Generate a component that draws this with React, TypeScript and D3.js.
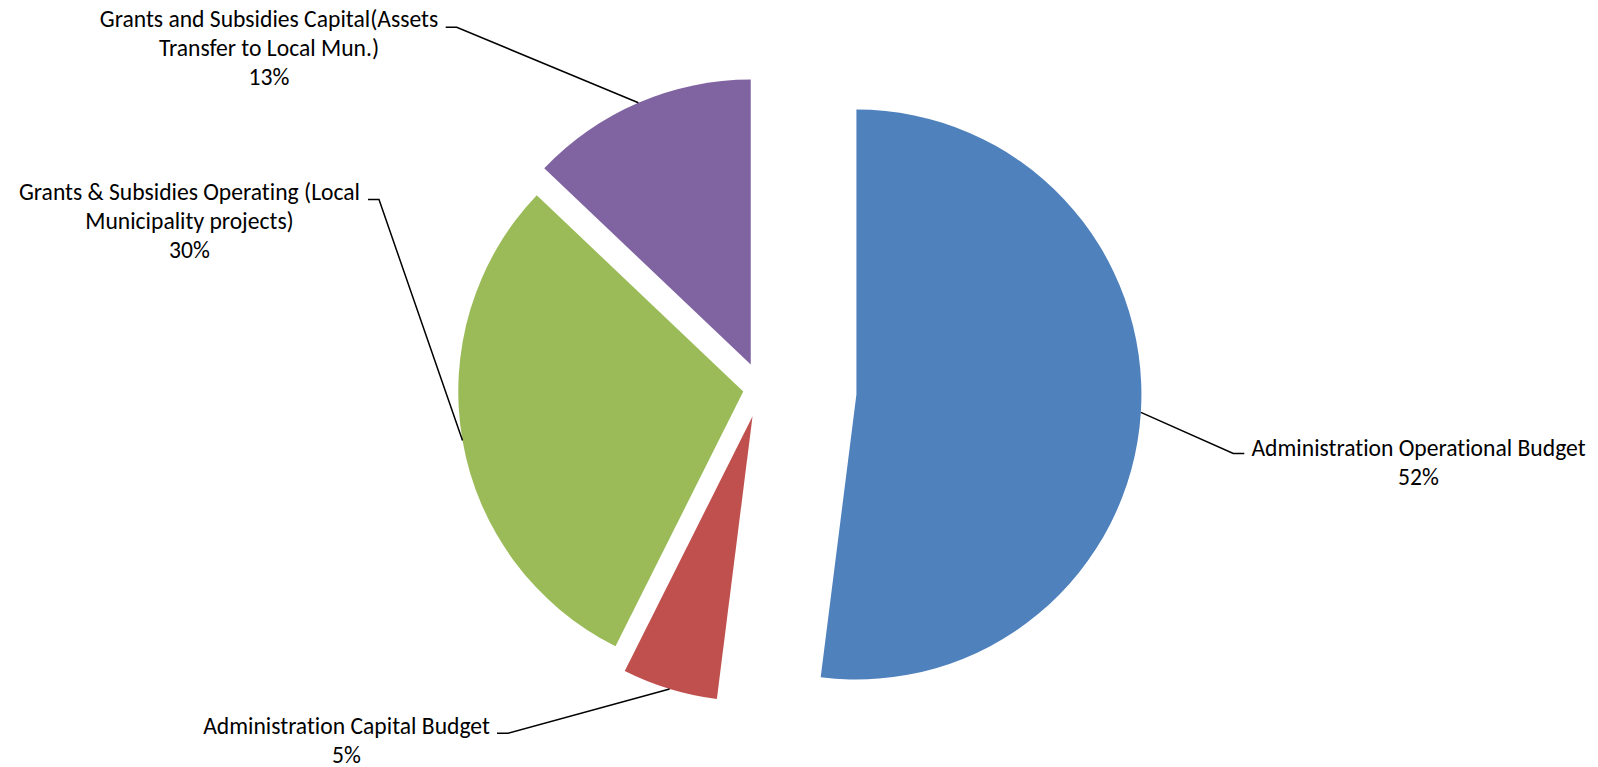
import React from "react";
import * as d3 from "d3";

// ---- data ----
const categories: string[] = [
  "Administration Operational Budget",
  "Administration Capital Budget",
  "Grants & Subsidies Operating (Local Municipality projects)",
  "Grants and Subsidies Capital(Assets Transfer to Local Mun.)",
];
const values: number[] = [52.0, 5.4, 29.7, 12.9];
const labelLines: string[][] = [
  ["Administration Operational Budget"],
  ["Administration Capital Budget"],
  ["Grants & Subsidies Operating (Local", "Municipality projects)"],
  ["Grants and Subsidies Capital(Assets", "Transfer to Local Mun.)"],
];

// ---- styles / layout ----
const colors = ["#4F81BD", "#C0504D", "#9BBB59", "#8064A2"];
const explode = [95.6, 29, 18, 26];
const W = 1598;
const H = 767;
const CX = 761;
const CY = 388.5;
const R = 285;
// label layout: elbow point of leader, tick direction, text centre x, first baseline y
const labelLayout = [
  { ex: 1233.3, ey: 453.5, dir: 1, tx: 1418.5, ty: 456 },
  { ex: 508, ey: 733.3, dir: -1, tx: 346.5, ty: 733.5 },
  { ex: 379, ey: 199.5, dir: -1, tx: 189.5, ty: 200 },
  { ex: 456.7, ey: 27.3, dir: -1, tx: 269, ty: 26.7 },
];
const TICK = 11;
const LINE_H = 29;
const FONT = "Carlito, Calibri, Lato, 'Open Sans', sans-serif";
const FONT_SIZE = 23.6;

export default function App() {
  const pie = d3
    .pie<number>()
    .sort(null)
    .startAngle(0)
    .endAngle(2 * Math.PI)
    .value((d) => d);
  const arcs = pie(values);
  const arcGen = d3.arc<d3.PieArcDatum<number>>().innerRadius(0).outerRadius(R);
  const total = d3.sum(values);

  return (
    <div style={{ position: "absolute", left: 0, top: 0, width: W, height: H, background: "#fff" }}>
      <svg width={W} height={H} style={{ display: "block" }}>
        <rect x={0} y={0} width={W} height={H} fill="#fff" />
        {arcs.map((a, i) => {
          const mid = (a.startAngle + a.endAngle) / 2;
          const ox = CX + Math.sin(mid) * explode[i];
          const oy = CY - Math.cos(mid) * explode[i];
          return (
            <path
              key={categories[i]}
              d={arcGen(a) || ""}
              transform={`translate(${ox},${oy})`}
              fill={colors[i]}
            />
          );
        })}
        {arcs.map((a, i) => {
          const mid = (a.startAngle + a.endAngle) / 2;
          const ox = CX + Math.sin(mid) * explode[i];
          const oy = CY - Math.cos(mid) * explode[i];
          const sx = ox + Math.sin(mid) * R;
          const sy = oy - Math.cos(mid) * R;
          const L = labelLayout[i];
          const pts: [number, number][] = [
            [sx, sy],
            [L.ex, L.ey],
            [L.ex + L.dir * TICK, L.ey],
          ];
          const pct = Math.round((values[i] / total) * 100) + "%";
          const lines = [...labelLines[i], pct];
          return (
            <g key={"lab" + i}>
              <path
                d={d3.line()(pts) || ""}
                fill="none"
                stroke="#000"
                strokeWidth={1.5}
              />
              <text
                x={L.tx}
                y={L.ty}
                textAnchor="middle"
                fontFamily={FONT}
                fontSize={FONT_SIZE}
                fill="#000"
                style={{ fontVariantLigatures: "none", fontKerning: "normal" }}
              >
                {lines.map((t, j) => (
                  <tspan key={j} x={L.tx} y={L.ty + j * LINE_H}>
                    {t}
                  </tspan>
                ))}
              </text>
            </g>
          );
        })}
      </svg>
    </div>
  );
}
